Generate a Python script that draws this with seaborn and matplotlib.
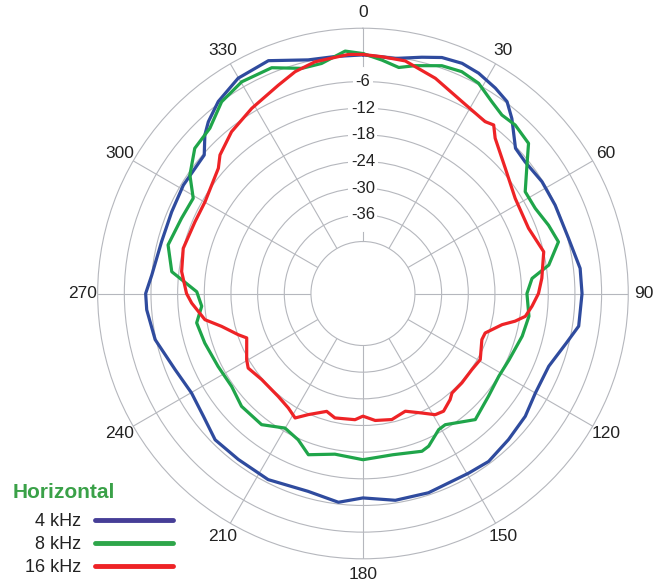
import numpy as np
import pandas as pd
import matplotlib
matplotlib.use("Agg")
import matplotlib.pyplot as plt
import seaborn as sns
from matplotlib.lines import Line2D

# =======================
# Dados (ângulo em graus, nível em dB)
# =======================
ang_4k = [0, 7.8, 14, 18.5, 23.3, 27.7, 32.8, 36.9, 40.4, 46.4,
          50.9, 58, 65.3, 75, 83.4, 90, 98.6, 103.7, 111.4, 120,
          127.1, 135.1, 143.2, 149.5, 161.8, 171.1, 180, 186.7, 195.5, 207,
          216.9, 225.3, 232.4, 239.9, 247.9, 257.5, 265.7, 270, 275, 284.4,
          293.1, 301.1, 311.1, 315.1, 318, 323, 329.9, 337.9, 346.8, 353.3]
db_4k = [0, -0.3, 1.1, 2.3, 2.7, 2.3, 1.3, 0.3, -2.0, -6.3,
         -6.7, -6.2, -6.1, -5.8, -4.5, -4.4, -4.6, -6.6, -8.8, -8.9,
         -7.9, -7.3, -6.5, -6.8, -6.5, -6.6, -7.7, -6.4, -7.5, -6.7,
         -7.0, -6.9, -8.4, -9.1, -8.1, -5.8, -4.9, -4.8, -6.0, -6.9,
         -6.9, -6.5, -6.3, -3.3, -1.7, 0.4, 2.3, 2.85, 0.3, 0]

ang_8k = [0, 4.65, 9, 12.9, 19.1, 24, 28.8, 33.9, 37.9, 42.1,
          47.8, 51.9, 57.9, 63.7, 69.8, 75.2, 81.3, 84.9, 90, 97.8,
          105, 114.5, 121.4, 129.3, 138.3, 147.9, 150.9, 156.7, 159.5, 169.5,
          180, 189.9, 198.7, 203.9, 210.1, 217.7, 227.1, 234.7, 243.3, 252.6,
          260, 265.5, 270.6, 276.5, 284, 292.5, 299.3, 304.4, 310.8, 317.2,
          323.6, 330.2, 338, 344.8, 349.8, 355.8]
db_8k = [0.3, -1.0, -2.2, -1.1, 0.55, 0.95, 0.3, -1.7, -2.8, -2.6,
         -3.4, -6.8, -10.6, -10.45, -9.2, -8.2, -11.4, -15.5, -16.8, -16.0,
         -16.6, -17.6, -17.9, -17.2, -15.7, -18.85, -18.65, -16.3, -15.8, -16.8,
         -16.3, -17.0, -15.4, -17.7, -18.7, -16.4, -16.4, -17.5, -17.2, -16.4,
         -15.7, -17.3, -16.3, -10.4, -8.5, -9.5, -9.9, -6.5, -3.7, -3.0,
         -0.1, 1.2, 1.1, -1.2, -1.1, 1.0]

ang_16k = [0, 4.6, 10.3, 18.6, 27.3, 35.4, 37.8, 40.4, 48.7, 58,
           68.5, 77, 85.1, 90, 94.3, 98, 100.3, 102.6, 107.9, 111.2,
           119.4, 125, 132.1, 138.2, 140.6, 145.6, 149.2, 153.7, 160.2, 167.1,
           174.5, 180, 183.6, 192.7, 197.1, 204.3, 208.6, 213.1, 219.5, 223.5,
           229.6, 237, 240.4, 249.1, 251.7, 256.9, 260.6, 266.8, 270, 276.9,
           284.1, 293.1, 300.2, 310.9, 314.1, 320.9, 329, 337.9, 343, 348.3,
           356.5]
db_16k = [0.1, -0.25, -0.5, -2.6, -5.1, -6.25, -5.7, -7.8, -11.05, -13.3,
          -13.65, -11.95, -13.3, -14.2, -15.55, -16.8, -18.9, -21.6, -24.8, -25.0,
          -23.4, -23.8, -23.7, -23.65, -22.8, -21.6, -21.95, -23.7, -25.55, -24.6,
          -25.0, -26.1, -25.25, -25.0, -25.95, -23.8, -21.8, -22.95, -23.7, -23.85,
          -23.8, -22.9, -23.6, -25.7, -24.15, -21.05, -17.65, -15.1, -14.0, -12.6,
          -12.0, -12.6, -12.6, -10.65, -8.9, -6.8, -5.1, -3.1, -1.5, -0.45,
          0.2]

freqs = ["4 kHz", "8 kHz", "16 kHz"]
cores = ["#2f4b9e", "#1fa54a", "#ee2326"]
cores_legenda = ["#463e97", "#2ea64a", "#ee2326"]
angle_ticks = list(range(0, 360, 30))
r_labels = [-6, -12, -18, -24, -30, -36]

# =======================
# Montar tabela (fechando cada curva)
# =======================
linhas = []
for f, angs, dbs in zip(freqs, [ang_4k, ang_8k, ang_16k], [db_4k, db_8k, db_16k]):
    a = list(angs) + [angs[0] + 360]
    d = list(dbs) + [dbs[0]]
    for i, (ai, di) in enumerate(zip(a, d)):
        linhas.append((f, i, np.deg2rad(ai), di))
df = pd.DataFrame(linhas, columns=["freq", "ordem", "theta", "db"])

sns.set_theme(style="white")
plt.rcParams['font.family'] = ['Liberation Sans', 'DejaVu Sans']

fig = plt.figure(figsize=(6.68, 5.83), dpi=100)
ax = fig.add_axes([0.1462, 0.0415, 0.7943, 0.9101], projection="polar")
ax.set_theta_zero_location("N")
ax.set_theta_direction(-1)
ax.set_rorigin(-53.7)
ax.set_ylim(-42, 6)

grid_cor = "#b5b7bd"
ax.set_yticks(range(-36, 1, 6))
ax.set_yticklabels([])
ax.set_xticks(np.deg2rad(angle_ticks))
ax.set_xticklabels([str(a) for a in angle_ticks], fontsize=12.5, color="#222222")
ax.tick_params(axis="x", length=0, pad=4)
ax.grid(True, color=grid_cor, linewidth=0.8)
for s in ax.spines.values():
    s.set_color(grid_cor)
    s.set_linewidth(0.8)

sns.lineplot(data=df, x="theta", y="db", hue="freq", hue_order=freqs,
             palette=cores, sort=False, estimator=None, units="freq",
             linewidth=2.3, legend=False, ax=ax, zorder=6)
ax.set_xlabel("")
ax.set_ylabel("")

# rótulos radiais sobre a linha de 0°
ax.plot([0, 0], [-39.5, -3.2], color="white", linewidth=3, zorder=3)
for v in r_labels:
    ax.text(0, v, str(v), ha="center", va="center", fontsize=12, color="#222222",
            zorder=4, bbox=dict(facecolor="white", edgecolor="none", boxstyle="square,pad=0.15"))

# legenda
fig.text(13 / 668, (583 - 498) / 583, "Horizontal", fontsize=15, fontweight="bold",
         color="#3aa148", ha="left", va="baseline")
handles = [Line2D([0], [0], color=c, linewidth=3.5) for c in cores_legenda]
leg = fig.legend(handles, freqs, loc="lower right", bbox_to_anchor=(173 / 668, 0.012),
                 markerfirst=False, frameon=False,
                 handlelength=4.32, handletextpad=0.78, labelspacing=0.33, fontsize=13,
                 borderpad=0, borderaxespad=0)
for t in leg.get_texts():
    t.set_color("#222222")

plt.savefig("out.png", dpi=100)
plt.close()
